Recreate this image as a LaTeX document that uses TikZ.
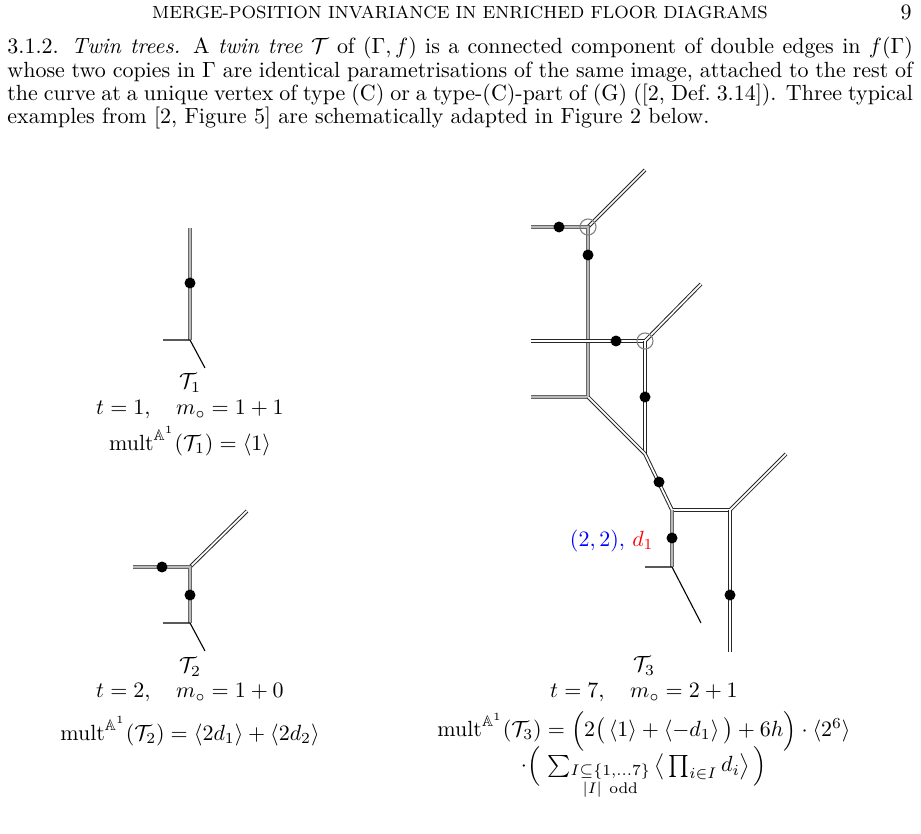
\documentclass[tikz,border=0pt]{standalone}
\usepackage{amsmath,amssymb}
\tikzset{
  twin/.style={draw=gray!80!black,line width=0.45pt,double=gray!55,double distance=1.1pt},
  dbl/.style={draw=black!85,line width=0.45pt,double=white,double distance=0.8pt},
  sgl/.style={draw=black,line width=0.5pt},
  dot/.style={circle,fill=black,inner sep=0pt,minimum size=5pt},
  ring/.style={circle,draw=gray,line width=0.5pt,inner sep=0pt,minimum size=7.3pt},
  lab/.style={inner sep=0pt,font=\normalsize}
}
\begin{document}
\begin{tikzpicture}[x=0.455pt,y=-0.455pt]
\useasboundingbox (0,0) rectangle (921,834);
% header
\node[lab] (hd) at (460,12) {\footnotesize MERGE-POSITION INVARIANCE IN ENRICHED FLOOR DIAGRAMS};
\node[lab] (pg) at (906,12) {9};
\node[lab,anchor=north west,text width=412pt,align=justify] (par) at (7,37) {\baselineskip=10.6pt 3.1.2. \textit{Twin trees.} A \textit{twin tree} $\mathcal T$ of $(\Gamma,f)$ is a connected component of double edges in $f(\Gamma)$\linebreak whose two copies in $\Gamma$ are identical parametrisations of the same image, attached to the rest of\linebreak the curve at a unique vertex of type (C) or a type-(C)-part of (G) ([2, Def.~3.14]). Three typical\linebreak examples from [2, Figure 5] are schematically adapted in Figure 2 below.\par};
% T1
\coordinate (a1) at (190,228); \coordinate (b1) at (190,340);
\coordinate (c1) at (163,340); \coordinate (e1) at (205,368);
\draw[twin] (a1)--(b1);
\draw[sgl] (c1)--(b1)--(e1);
\node[dot] (d1) at (190,283) {};
\node[lab] (l1) at (190,383) {$\mathcal T_1$};
\node[lab] (m1) at (190,410) {$t=1,\quad m_\circ=1+1$};
\node[lab] (n1) at (190,441) {$\mathrm{mult}^{\mathbb A^1}(\mathcal T_1)=\langle1\rangle$};
% T2
\coordinate (a2) at (133,567); \coordinate (b2) at (190,567);
\coordinate (f2) at (247,511); \coordinate (g2) at (190,623);
\coordinate (c2) at (163,623); \coordinate (e2) at (205,651);
\draw[dbl] (b2)--(f2);
\draw[twin] (a2)--(b2)--(g2);
\draw[sgl] (c2)--(g2)--(e2);
\node[dot] (d2a) at (162,567) {};
\node[dot] (d2b) at (190,595) {};
\node[lab] (l2) at (190,667) {$\mathcal T_2$};
\node[lab] (m2) at (190,693) {$t=2,\quad m_\circ=1+0$};
\node[lab] (n2) at (190,731) {$\mathrm{mult}^{\mathbb A^1}(\mathcal T_2)=\langle2d_1\rangle+\langle2d_2\rangle$};
% T3
\coordinate (pA) at (588,227); \coordinate (pA0) at (531,227); \coordinate (pA1) at (645,170);
\coordinate (pB) at (588,397); \coordinate (pB0) at (531,397);
\coordinate (pC) at (645,341); \coordinate (pC0) at (531,341); \coordinate (pC1) at (701,284);
\coordinate (pD) at (645,454);
\coordinate (pE) at (672,510); \coordinate (pF) at (730,510); \coordinate (pF1) at (786,454); \coordinate (pF2) at (730,652);
\coordinate (pG) at (672,567); \coordinate (pG0) at (645,567); \coordinate (pG1) at (701,623);
\draw[dbl] (pA)--(pA1);
\draw[twin] (pA0)--(pA)--(pB)--(pB0);
\draw[dbl] (pC0)--(pC)--(pC1);
\draw[dbl] (pC)--(pD);
\draw[dbl] (pB)--(pD)--(pE)--(pF)--(pF1);
\draw[dbl] (pF)--(pF2);
\draw[twin] (pE)--(pG);
\draw[sgl] (pG0)--(pG)--(pG1);
\node[ring] (r1) at (pA) {};
\node[ring] (r2) at (pC) {};
\node[dot] (d3a) at (559,227) {};
\node[dot] (d3b) at (588,255) {};
\node[dot] (d3c) at (616,341) {};
\node[dot] (d3d) at (645,397) {};
\node[dot] (d3e) at (659,482) {};
\node[dot] (d3f) at (672,538) {};
\node[dot] (d3g) at (730,595) {};
\node[lab,anchor=east] (lb) at (654,541) {$\color{blue}(2,2),\,\color{red}d_1$};
\node[lab] (l3) at (644,666) {$\mathcal T_3$};
\node[lab] (m3) at (644,693) {$t=7,\quad m_\circ=2+1$};
\node[lab] (n3) at (644,731) {$\mathrm{mult}^{\mathbb A^1}(\mathcal T_3)=\Big(2\big(\,\langle1\rangle+\langle-d_1\rangle\,\big)+6h\Big)\cdot\langle2^6\rangle$};
\node[lab] (o3) at (644,772) {$\cdot\Big(\,\sum_{\substack{I\subseteq\{1,\dots7\}\\|I|\ \mathrm{odd}}}\big\langle\prod_{i\in I}d_i\big\rangle\,\Big)$};
\end{tikzpicture}
\end{document}
